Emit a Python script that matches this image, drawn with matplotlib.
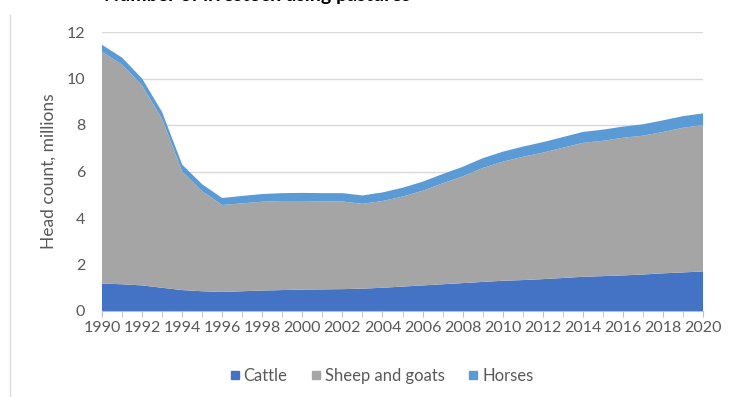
import matplotlib
matplotlib.use("Agg")
import matplotlib.pyplot as plt
from matplotlib.lines import Line2D

years = list(range(1990, 2021))
cattle = [1.18, 1.15, 1.10, 1.00, 0.90, 0.85, 0.82, 0.85, 0.88, 0.90, 0.92, 0.93, 0.94, 0.96, 1.00,
          1.05, 1.10, 1.15, 1.20, 1.25, 1.30, 1.33, 1.37, 1.42, 1.47, 1.50, 1.53, 1.57, 1.62, 1.66, 1.70]
sheep_goats = [9.97, 9.45, 8.60, 7.26, 5.10, 4.30, 3.74, 3.78, 3.82, 3.83, 3.81, 3.79, 3.77, 3.65, 3.73,
               3.87, 4.07, 4.34, 4.59, 4.90, 5.12, 5.30, 5.44, 5.60, 5.76, 5.82, 5.92, 5.97, 6.08, 6.22, 6.30]
horses = [0.30, 0.30, 0.30, 0.30, 0.30, 0.30, 0.30, 0.32, 0.33, 0.34, 0.35, 0.35, 0.36, 0.36, 0.37,
          0.38, 0.39, 0.40, 0.41, 0.42, 0.43, 0.44, 0.45, 0.46, 0.47, 0.48, 0.48, 0.49, 0.50, 0.50, 0.50]
series_names = ["Cattle", "Sheep and goats", "Horses"]
tick_years = list(range(1990, 2021, 2))

colors = ["#4472C4", "#A5A5A5", "#5B9BD5"]
text_color = "#595959"

plt.rcParams["font.family"] = ["Lato", "DejaVu Sans"]

fig = plt.figure(figsize=(7.36, 3.97), dpi=100)
ax = fig.add_axes([102/736, 1 - 311/397, (703-102)/736, (311-32)/397])

ax.stackplot(years, cattle, sheep_goats, horses, colors=colors, labels=series_names, linewidth=0)

ax.set_xlim(1990, 2020)
ax.set_ylim(0, 12)
ax.set_yticks(range(0, 13, 2))
ax.set_xticks(tick_years)
ax.set_xticks(years, minor=True)
ax.grid(axis="y", color="#D9D9D9", linewidth=1)
ax.set_axisbelow(True)
for s in ["top", "right", "left"]:
    ax.spines[s].set_visible(False)
ax.spines["bottom"].set_color("#BFBFBF")
ax.tick_params(axis="y", length=0, colors=text_color, labelsize=11.5, pad=12)
ax.tick_params(axis="x", which="both", length=4, color="#BFBFBF", colors=text_color, labelsize=11.5, pad=3)
ax.set_ylabel("Head count, millions", color=text_color, fontsize=12.5, labelpad=7)

handles = [Line2D([], [], marker="s", linestyle="none", markersize=5.5, color=c) for c in colors]
fig.legend(handles, series_names, loc="center", bbox_to_anchor=(380/736, 1 - 376/397), ncol=3,
           frameon=False, fontsize=12, labelcolor=text_color, handletextpad=0.05,
           handlelength=1.0, columnspacing=1.2)

fig.text(410/736, 1 - 1/397, "Number of livestock using pastures", ha="right", va="baseline",
         fontsize=14, fontweight="bold", color="black")
fig.add_artist(Line2D([10/736, 10/736], [0, 1 - 15/397], color="#D9D9D9", linewidth=1, transform=fig.transFigure))

fig.savefig("out.png", dpi=100)
